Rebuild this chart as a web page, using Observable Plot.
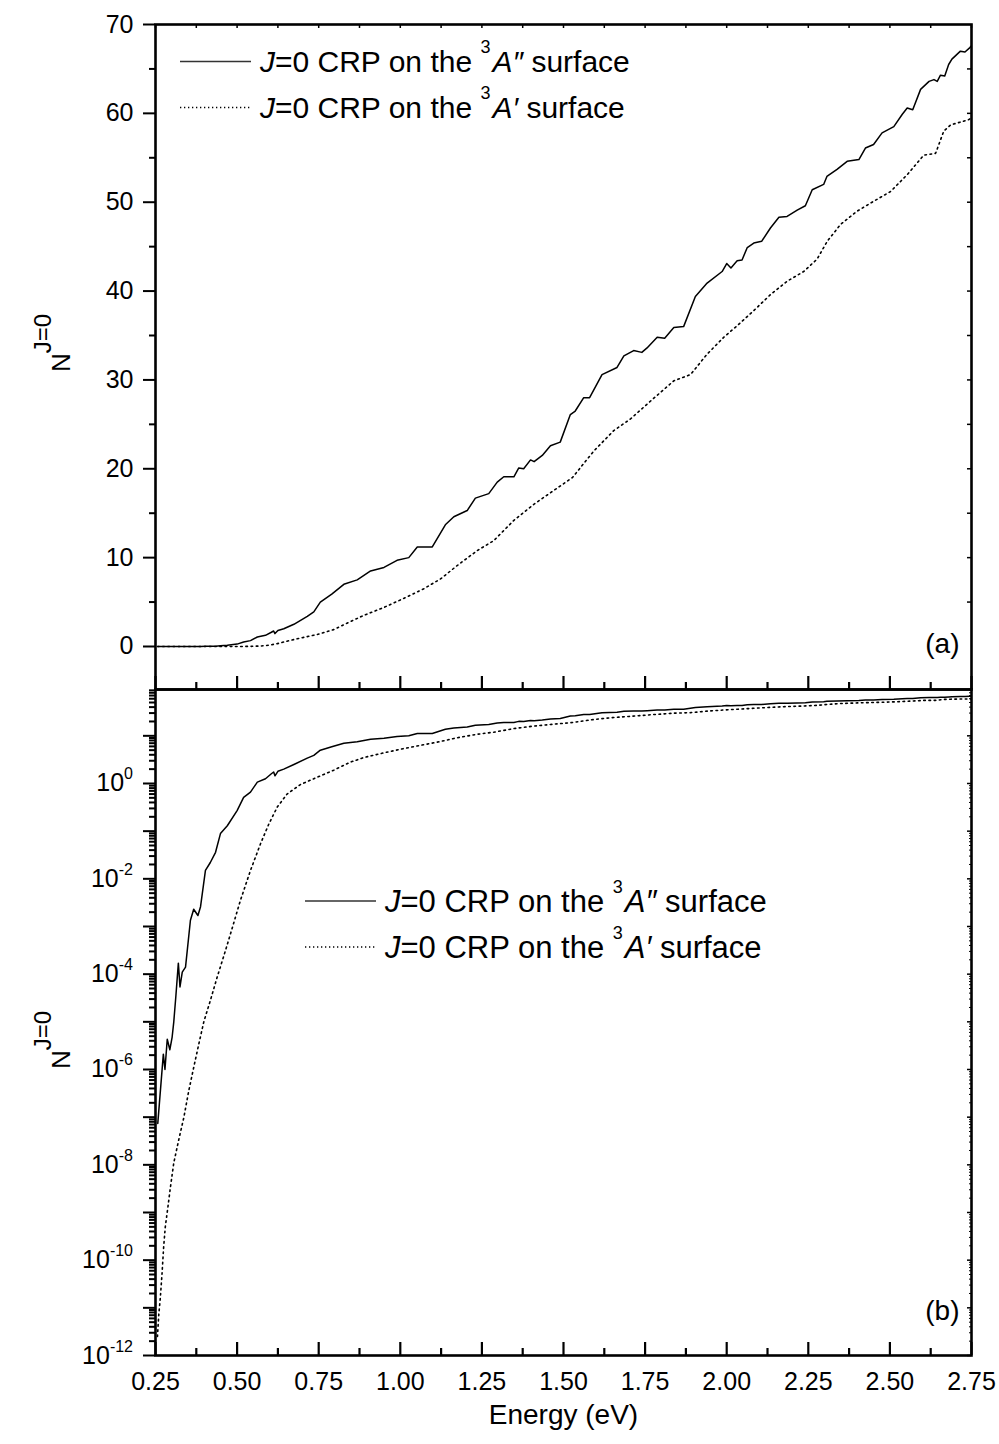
<!DOCTYPE html>
<html><head><meta charset="utf-8">
<script src="https://cdn.jsdelivr.net/npm/d3@7"></script>
<script src="https://cdn.jsdelivr.net/npm/@observablehq/plot@0.6"></script>
<style>
body{margin:0;background:#fff;}
#wrap{position:relative;width:999px;height:1444px;font-family:"Liberation Sans",Arial,sans-serif;}
#wrap svg{position:absolute;left:0;overflow:visible;}
</style></head><body><div id="wrap"></div>
<script>
// ---- data: J=0 CRP on the 3A'' surface (solid) ----
const solidE = [0.257,0.274,0.279,0.286,0.294,0.301,0.306,0.312,0.320,0.325,0.332,0.342,0.357,0.367,0.380,0.388,0.403,0.418,0.434,0.449,0.470,0.500,0.520,0.541,0.562,0.587,0.605,0.612,0.616,0.625,0.643,0.674,0.715,0.735,0.755,0.790,0.827,0.868,0.909,0.950,0.990,1.026,1.052,1.098,1.138,1.164,1.205,1.230,1.271,1.297,1.317,1.348,1.363,1.378,1.399,1.410,1.435,1.460,1.490,1.521,1.536,1.562,1.580,1.618,1.664,1.685,1.715,1.740,1.756,1.787,1.810,1.838,1.868,1.904,1.940,1.986,2.000,2.013,2.032,2.047,2.063,2.083,2.107,2.134,2.160,2.185,2.216,2.241,2.262,2.297,2.307,2.338,2.369,2.405,2.425,2.450,2.476,2.512,2.538,2.553,2.570,2.594,2.620,2.635,2.645,2.655,2.668,2.680,2.690,2.716,2.730,2.745,2.750];
const solidN = [7.4e-8,2.1e-6,1.0e-6,4.3e-6,2.6e-6,4.8e-6,1.0e-5,3.2e-5,1.7e-4,5.4e-5,1.1e-4,1.4e-4,1.35e-3,2.3e-3,1.7e-3,2.6e-3,0.015,0.022,0.036,0.089,0.13,0.27,0.51,0.66,1.07,1.26,1.6,1.74,1.45,1.8,2.0,2.5,3.4,3.9,5.0,5.9,7.0,7.5,8.5,8.9,9.7,10.0,11.2,11.2,13.7,14.6,15.3,16.7,17.2,18.5,19.1,19.1,20.1,20.0,21.0,20.8,21.5,22.6,23.0,26.1,26.5,28.0,28.0,30.6,31.4,32.7,33.3,33.1,33.6,34.8,34.7,35.9,36.0,39.4,40.9,42.2,43.1,42.6,43.4,43.5,44.9,45.4,45.6,47.1,48.3,48.4,49.1,49.6,51.4,52.0,52.9,53.7,54.6,54.8,56.1,56.5,57.8,58.5,59.9,60.6,60.4,62.7,63.6,63.8,63.6,64.3,64.2,65.5,66.1,67.0,66.9,67.4,67.6];
// ---- data: J=0 CRP on the 3A' surface (dotted) ----
const dotE = [0.256,0.260,0.265,0.270,0.275,0.280,0.288,0.296,0.306,0.321,0.337,0.352,0.367,0.383,0.398,0.418,0.439,0.460,0.480,0.510,0.541,0.572,0.597,0.623,0.653,0.694,0.745,0.796,0.847,0.888,0.950,1.010,1.072,1.123,1.174,1.236,1.286,1.348,1.409,1.460,1.527,1.593,1.654,1.705,1.766,1.838,1.889,1.940,1.991,2.032,2.083,2.134,2.185,2.236,2.277,2.308,2.349,2.400,2.450,2.502,2.553,2.604,2.640,2.665,2.686,2.742,2.750];
const dotN = [2.5e-12,7.1e-12,1.7e-11,5.2e-11,1.9e-10,5.0e-10,1.3e-9,3.5e-9,1.1e-8,3.3e-8,1.0e-7,3.6e-7,1.1e-6,3.5e-6,1.0e-5,2.8e-5,8.7e-5,2.5e-4,7.1e-4,3.5e-3,0.015,0.055,0.14,0.32,0.60,0.95,1.35,1.9,2.8,3.5,4.4,5.4,6.5,7.6,9.1,10.8,11.9,14.2,16.0,17.3,19.0,22.0,24.3,25.6,27.6,29.9,30.6,32.9,34.8,36.1,37.8,39.6,41.1,42.2,43.6,45.6,47.5,49.0,50.1,51.2,53.1,55.3,55.5,58.0,58.7,59.3,59.5];
// ---- ticks / labels ----
const xMajor = [0.25,0.50,0.75,1.00,1.25,1.50,1.75,2.00,2.25,2.50,2.75];
const xMinor = [0.375,0.625,0.875,1.125,1.375,1.625,1.875,2.125,2.375,2.625];
const yMajorA = [0,10,20,30,40,50,60,70];
const yMinorA = [5,15,25,35,45,55,65];
const yRightA = [5,10,15,20,25,30,35,40,45,50,55,60,65];
const logDecades = [-12,-11,-10,-9,-8,-7,-6,-5,-4,-3,-2,-1,0,1];
const logLabelExp = [-12,-10,-8,-6,-4,-2,0];
const seriesPrimes = ["\u2033", "\u2032"];   // A'' and A'
const panelTags = ["(a)", "(b)"];
const xTitle = "Energy (eV)";

const solid = solidE.map((e,i)=>({E:e, N:solidN[i]}));
const dotted = dotE.map((e,i)=>({E:e, N:dotN[i]}));
const xAll = xMajor.concat(xMinor);
const logMinor = [];
for (const d of logDecades) for (let m=2;m<=9;m++){ const v=m*10**d; if (v<=93.7) logMinor.push(v); }
const logMajor = logDecades.map(d=>10**d);

const W=999, ML=155, MR=28;
const FONT = '"Liberation Sans", Arial, sans-serif';
const wrap = document.getElementById("wrap");

// ---------- top panel ----------
const topH = 689, topMT = 24, pHA = topH - topMT, pW = W - ML - MR;
const plotA = Plot.plot({
  width: W, height: topH, marginLeft: ML, marginRight: MR, marginTop: topMT, marginBottom: 0,
  style: {fontFamily: FONT, fontSize: "25px", overflow: "visible", background: "transparent", color: "black"},
  x: {domain: [0.25, 2.75], axis: null},
  y: {domain: [-4.84, 70]},
  marks: [
    Plot.line(solid, {x: "E", y: "N", stroke: "black", strokeWidth: 1.5, clip: true}),
    Plot.line(dotted, {x: "E", y: "N", stroke: "black", strokeWidth: 1.6, strokeDasharray: "1.6,3.6", clip: true}),
    Plot.axisY({ticks: yMajorA, tickSize: 12, tickPadding: 10, strokeWidth: 2, label: null, fontSize: 25, tickFormat: d => String(d)}),
    Plot.axisY({ticks: yMinorA, tickSize: 6, strokeWidth: 2, label: null, tickFormat: () => ""}),
    Plot.tickX(xMajor, {x: d => d, insetTop: pHA - 13, strokeWidth: 2.2}),
    Plot.tickX(xMinor, {x: d => d, insetTop: pHA - 7, strokeWidth: 2.2}),
    Plot.tickX(xAll, {x: d => d, insetBottom: pHA - 4, strokeWidth: 1.5}),
    Plot.tickY(yRightA, {y: d => d, insetLeft: pW - 4, strokeWidth: 1.5}),
    Plot.frame({stroke: "black", strokeWidth: 2.6}),
    Plot.text([panelTags[0]], {text: d => d, frameAnchor: "bottom-right", textAnchor: "end", dx: -12, dy: -37, fontSize: 28})
  ]
});
plotA.style.top = "0px";
wrap.appendChild(plotA);

// ---------- bottom panel ----------
const botTop = 689, botH = 1444 - 689, botMB = 89, pHB = botH - botMB;
const plotB = Plot.plot({
  width: W, height: botH, marginLeft: ML, marginRight: MR, marginTop: 0, marginBottom: botMB,
  style: {fontFamily: FONT, fontSize: "25px", overflow: "visible", background: "transparent", color: "black"},
  x: {domain: [0.25, 2.75]},
  y: {type: "log", domain: [1e-12, 93.7]},
  marks: [
    Plot.line(solid, {x: "E", y: "N", stroke: "black", strokeWidth: 1.5, clip: true}),
    Plot.line(dotted, {x: "E", y: "N", stroke: "black", strokeWidth: 1.6, strokeDasharray: "1.6,3.6", clip: true}),
    Plot.axisY({ticks: logMajor, tickSize: 12, strokeWidth: 2, label: null, tickFormat: () => ""}),
    Plot.axisY({ticks: logMinor, tickSize: 6, strokeWidth: 2, label: null, tickFormat: () => ""}),
    Plot.axisX({ticks: xMajor, tickSize: 0, tickPadding: 17, label: null, fontSize: 25, tickFormat: d3.format(".2f")}),
    Plot.tickX(xMajor, {x: d => d, insetTop: pHB - 13, strokeWidth: 2.2}),
    Plot.tickX(xMinor, {x: d => d, insetTop: pHB - 7, strokeWidth: 2.2}),
    Plot.tickY(logMajor, {y: d => d, insetLeft: pW - 4, strokeWidth: 1.5}),
    Plot.tickY(logMinor, {y: d => d, insetLeft: pW - 2, strokeWidth: 1}),
    Plot.frame({stroke: "black", strokeWidth: 2.6}),
    Plot.text([panelTags[1]], {text: d => d, frameAnchor: "bottom-right", textAnchor: "end", dx: -12, dy: -36, fontSize: 28}),
    Plot.text([xTitle], {text: d => d, frameAnchor: "bottom", dy: 68, fontSize: 28})
  ]
});
plotB.style.top = botTop + "px";
wrap.appendChild(plotB);

// log tick labels with superscripts
const sy = plotB.scale("y");
const gB = d3.select(plotB);
for (const e of logLabelExp) {
  const yy = sy.apply(10 ** e);
  const t = gB.append("text").attr("x", ML - 22).attr("y", yy + 8.5)
    .attr("text-anchor", "end").style("font-size", "25px").style("font-family", FONT);
  t.append("tspan").text("10");
  t.append("tspan").attr("dy", -12).style("font-size", "16px").text(String(e));
}

// y-axis titles N^{J=0}
function yTitle(svg, cy) {
  const t = d3.select(svg).append("text")
    .attr("transform", `translate(70,${cy}) rotate(-90)`)
    .attr("text-anchor", "middle").style("font-size", "26px").style("font-family", FONT);
  t.append("tspan").text("N");
  t.append("tspan").attr("dy", -19).style("font-size", "24px").text("J=0");
}
yTitle(plotA, 343);
yTitle(plotB, 1040 - botTop);

// legends
function legend(svg, x0, yLine1, rowGap, primes, fs) {
  const g = d3.select(svg).append("g").style("font-family", FONT).attr("text-anchor", "start");
  primes.forEach((pr, i) => {
    const yl = yLine1 + i * rowGap;
    g.append("line").attr("x1", x0).attr("x2", x0 + 71).attr("y1", yl).attr("y2", yl)
      .attr("stroke", i === 0 ? "#333" : "black").attr("stroke-width", i === 0 ? 1.5 : 1.3)
      .attr("stroke-dasharray", i === 0 ? null : "1.3,2.7");
    const t = g.append("text").attr("x", x0 + 80).attr("y", yl + 10.5)
      .attr("text-anchor", "start").style("font-size", fs + "px");
    t.append("tspan").style("font-style", "italic").text("J");
    t.append("tspan").text("=0 CRP on the ");
    t.append("tspan").attr("dy", -19).style("font-size", "18px").text("3");
    t.append("tspan").attr("dy", 19).attr("dx", 2).style("font-style", "italic").text("A");
    t.append("tspan").style("font-style", "italic").text(pr);
    t.append("tspan").text(" surface");
  });
}
legend(plotA, 180, 61.5, 46, seriesPrimes, 30);
legend(plotB, 305, 901 - botTop, 46, seriesPrimes, 31);
</script></body></html>
